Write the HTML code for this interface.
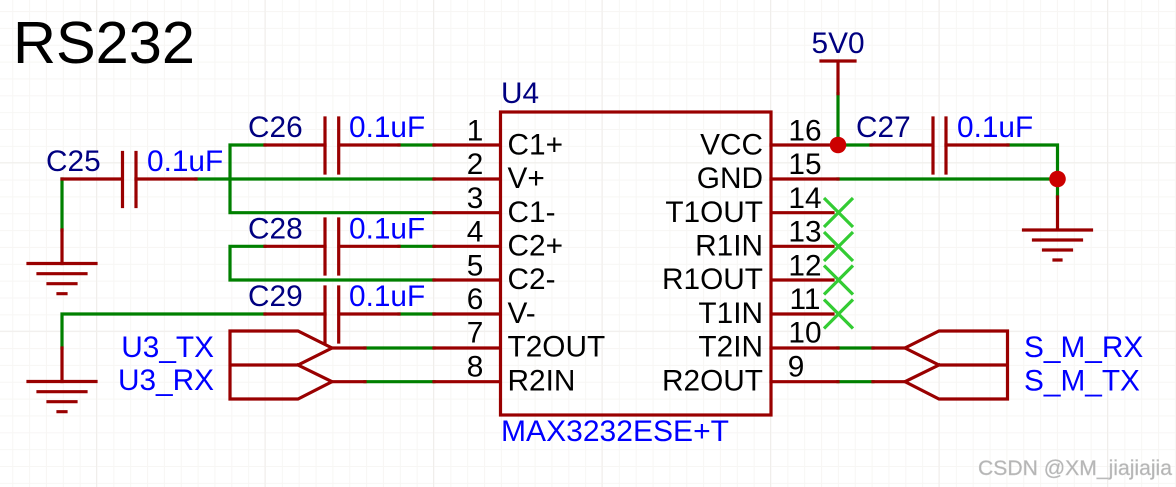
<!DOCTYPE html>
<html><head><meta charset="utf-8"><style>
html,body{margin:0;padding:0;background:#fff}
svg{display:block}
text{font-family:"Liberation Sans",Arial,sans-serif;font-size:29.8px}
.n{fill:#000080}.b{fill:#0000ff}.k{fill:#000}
.r{fill:none;stroke:#990000;stroke-width:3.2;stroke-linecap:square;stroke-linejoin:miter}
.g{fill:none;stroke:#008000;stroke-width:3.2;stroke-linecap:square;stroke-linejoin:miter}
.x{fill:none;stroke:#33cc33;stroke-width:3.2}
.e{text-anchor:end}.m{text-anchor:middle}
</style></head><body>
<svg width="1176" height="487" viewBox="0 0 1176 487" xmlns="http://www.w3.org/2000/svg">
<defs>
<pattern id="mi" x="12.25" y="-5.8" width="16.85" height="16.85" patternUnits="userSpaceOnUse"><path d="M.5 0V16.85M0 .5H16.85" stroke="#f7f6f4" stroke-width="1" fill="none"/></pattern>
<pattern id="ma" x="96" y="-6.3" width="168.5" height="168.5" patternUnits="userSpaceOnUse"><path d="M.5 0V168.5M0 .5H168.5" stroke="#f0eeeb" stroke-width="1" fill="none"/></pattern>
</defs>
<rect width="1176" height="487" fill="#fff"/>
<rect width="1176" height="487" fill="url(#mi)"/>
<rect width="1176" height="487" fill="url(#ma)"/>

<!-- green wires -->
<path class="g" d="M265 145H230V212.7H434M196 179H434M265 246.3H230V280H434M62 230V179M265 314H62V348M399 145H434M399 246.3H434M399 314H434M365 348H434M365 381.7H434"/>
<path class="g" d="M838 93.6V145H871M1008 145H1057.5V197M838 179H1057.5M838 348H873M838 381.7H873"/>

<!-- red wires -->
<path class="r" d="M62 179H122M136 179H196M62 230V263.5M265 145H325M339 145H399M265 246.3H325M339 246.3H399M265 314H325M339 314H399M62 348V381.5"/>
<!-- plates -->
<path class="r" d="M122.5 152.5V206.5M136 152.5V206.5M325 118V173M338.7 118V173M325 219V274M338.7 219V274M325 287V342M338.7 287V342M933 118V173M946 118V173"/>
<!-- grounds -->
<path class="r" d="M28 263.5H96M38 273.7H86M48 283.7H76M58 293.7H66M28 381.5H96M38 391.7H86M48 401.7H76M58 411.7H66"/>
<path class="r" d="M1023.5 230H1091.5M1033.5 240H1081.5M1043.5 250H1071.5M1054 260H1061M1057.5 197V230"/>
<!-- 5V0 -->
<path class="r" d="M821 61H855M838 61V93.6"/>
<path class="r" d="M871 145H932M946 145H1008"/>

<!-- chip -->
<rect x="500.5" y="112" width="270.5" height="303" fill="none" stroke="#990000" stroke-width="3.2"/>
<path class="r" stroke-linecap="butt" d="M434 145H500M434 179H500M434 212.7H500M434 246.3H500M434 280H500M434 314H500M434 348H500M434 381.7H500"/>
<path class="r" d="M771 145H838M771 179H838M772 212.7H833M772 246.3H833M772 280H833M772 314H833M771 348H838M771 381.7H838M873 348H905M873 381.7H905"/>

<!-- ports -->
<path class="r" d="M332 348H365M332 381.7H365"/>
<path class="r" d="M230 331H298L332 348L298 365H230ZM298 365L332 381.7L298 399H230V365"/>
<path class="r" d="M1007.5 331H939L905 348L939 365H1007.5ZM939 365L905 381.7L939 399H1007.5V365"/>

<!-- no connects -->
<path class="x" d="M824 198L853 227M853 198L824 227M824 232L853 261M853 232L824 261M824 265.500L853 294.500M853 265.500L824 294.500M824 299.500L853 328.500M853 299.500L824 328.500"/>

<!-- junctions -->
<circle cx="838" cy="145" r="8.300" fill="#cc0000"/>
<circle cx="1057.500" cy="179" r="8.300" fill="#cc0000"/>

<!-- title -->
<text x="13" y="63" class="k" style="font-size:59.5px">RS232</text>

<!-- designators -->
<text x="46" y="171" class="n">C25</text>
<text x="248" y="137" class="n">C26</text>
<text x="248" y="238.500" class="n">C28</text>
<text x="248" y="306" class="n">C29</text>
<text x="856" y="137" class="n">C27</text>
<text x="501" y="103" class="n">U4</text>
<text x="811.500" y="53" class="n">5V0</text>

<!-- values -->
<text x="147" y="171" class="b">0.1uF</text>
<text x="349" y="137" class="b">0.1uF</text>
<text x="349" y="238.500" class="b">0.1uF</text>
<text x="349" y="306" class="b">0.1uF</text>
<text x="957" y="137" class="b">0.1uF</text>
<text x="501" y="441" class="b" textLength="228" lengthAdjust="spacingAndGlyphs">MAX3232ESE+T</text>
<text x="214" y="357" class="b e">U3_TX</text>
<text x="214" y="390" class="b e">U3_RX</text>
<text x="1024" y="357" class="b">S_M_RX</text>
<text x="1024" y="390.500" class="b">S_M_TX</text>

<!-- pin numbers -->
<g class="k">
<text x="475" y="140.500" class="m">1</text>
<text x="475" y="174.200" class="m">2</text>
<text x="475" y="207.900" class="m">3</text>
<text x="475" y="241.600" class="m">4</text>
<text x="475" y="275.300" class="m">5</text>
<text x="475" y="309" class="m">6</text>
<text x="475" y="342.700" class="m">7</text>
<text x="475" y="376.400" class="m">8</text>
<text x="805" y="140.500" class="m">16</text>
<text x="805" y="174.200" class="m">15</text>
<text x="805" y="207.900" class="m">14</text>
<text x="805" y="241.600" class="m">13</text>
<text x="805" y="275.300" class="m">12</text>
<text x="805" y="309" class="m">11</text>
<text x="805" y="342.700" class="m">10</text>
<text x="796" y="376.400" class="m">9</text>
</g>

<!-- pin names -->
<g class="k">
<text x="507.500" y="154.500">C1+</text>
<text x="507.500" y="188">V+</text>
<text x="507.500" y="222">C1-</text>
<text x="507.500" y="255.500">C2+</text>
<text x="507.500" y="289">C2-</text>
<text x="507.500" y="323">V-</text>
<text x="507.500" y="356.500">T2OUT</text>
<text x="507.500" y="390.500">R2IN</text>
<text x="763" y="154.500" class="e">VCC</text>
<text x="763" y="188" class="e">GND</text>
<text x="763" y="222" class="e">T1OUT</text>
<text x="763" y="255.500" class="e">R1IN</text>
<text x="763" y="289" class="e">R1OUT</text>
<text x="763" y="323" class="e">T1IN</text>
<text x="763" y="356.500" class="e">T2IN</text>
<text x="763" y="390.500" class="e">R2OUT</text>
</g>

<!-- watermark -->
<text x="978" y="475" fill="#b4b4b4" stroke="#c8c8c8" stroke-width="0.4" style="font-size:21.500px" textLength="194" lengthAdjust="spacingAndGlyphs">CSDN @XM_jiajiajia</text>
</svg>
</body></html>
